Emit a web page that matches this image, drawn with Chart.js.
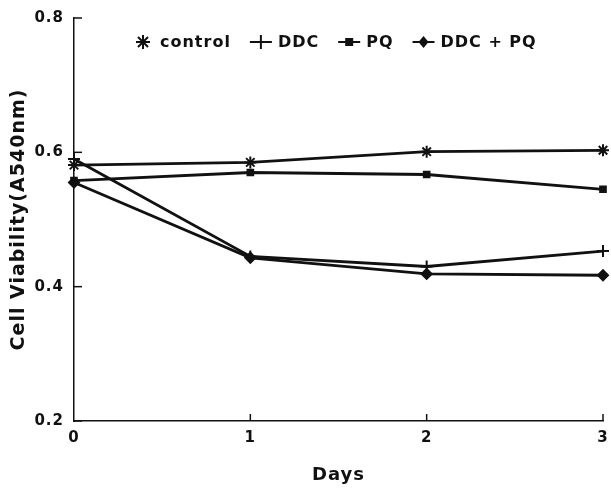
<!DOCTYPE html>
<html lang="en">
<head>
    <meta charset="UTF-8">
    <title>Cell Viability</title>
    <script src="https://cdn.jsdelivr.net/npm/chart.js"></script>
    <style>
        body { margin: 0; background: #fff; }
    </style>
</head>
<body>
    <canvas id="viabilityChart" width="611" height="492"></canvas>

    <script>
        // data
        var days = ["0", "1", "2", "3"];
        var control = [0.581, 0.585, 0.601, 0.603];
        var ddc = [0.590, 0.445, 0.430, 0.453];
        var pq = [0.558, 0.570, 0.567, 0.545];
        var ddcPq = [0.555, 0.443, 0.419, 0.417];
        var yTicks = [0.2, 0.4, 0.6, 0.8];

        var ink = "#111";
        var family = "'DejaVu Sans', 'Liberation Sans', Arial, sans-serif";

        // draws a legend icon: short line with the marker on it
        function drawIcon(g, style, cx, cy)
        {
            g.strokeStyle = ink; g.fillStyle = ink; g.lineWidth = 2;
            if (style != "star") {
                g.beginPath(); g.moveTo(cx - 11, cy); g.lineTo(cx + 11, cy); g.stroke();
            }
            g.beginPath();
            if (style == "star") {
                g.moveTo(cx, cy - 7); g.lineTo(cx, cy + 7);
                g.moveTo(cx - 7, cy); g.lineTo(cx + 7, cy);
                g.moveTo(cx - 5, cy - 5); g.lineTo(cx + 5, cy + 5);
                g.moveTo(cx + 5, cy - 5); g.lineTo(cx - 5, cy + 5);
                g.stroke();
            } else if (style == "cross") {
                g.moveTo(cx, cy - 7); g.lineTo(cx, cy + 7); g.stroke();
            } else if (style == "rect") {
                g.fillRect(cx - 4, cy - 4, 8, 8);
            } else if (style == "rectRot") {
                g.moveTo(cx, cy - 6); g.lineTo(cx + 5, cy); g.lineTo(cx, cy + 6); g.lineTo(cx - 5, cy); g.closePath(); g.fill();
            }
        }

        // wider letter spacing like the printed figure (only when drawing)
        var spacing = {
            id: "spacing",
            beforeDraw(chart) { chart.ctx.letterSpacing = "1px"; },
            afterDraw(chart) { chart.ctx.letterSpacing = "0px"; }
        };

        // inner tick marks + legend row inside the plot
        var decorations = {
            id: "decorations",
            afterDraw(chart) {
                var ctx = chart.ctx, a = chart.chartArea;
                var x = chart.scales.x, y = chart.scales.y;
                ctx.save();
                ctx.strokeStyle = ink; ctx.lineWidth = 1.5;
                yTicks.forEach(v => {
                    var py = y.getPixelForValue(v);
                    ctx.beginPath(); ctx.moveTo(a.left, py); ctx.lineTo(a.left + 8, py); ctx.stroke();
                });
                days.forEach((d, i) => {
                    if (i == 0) return;
                    var px = x.getPixelForValue(i);
                    ctx.beginPath(); ctx.moveTo(px, a.bottom); ctx.lineTo(px, a.bottom - 7); ctx.stroke();
                });

                // legend
                var styles = ["star", "cross", "rect", "rectRot"];
                ctx.font = "bold 16px " + family;
                ctx.letterSpacing = "1px";
                ctx.textBaseline = "middle";
                ctx.textAlign = "left";
                var cx = a.left + 69, cy = 42;
                chart.data.datasets.forEach((ds, i) => {
                    drawIcon(ctx, styles[i], cx, cy);
                    ctx.fillStyle = ink;
                    ctx.fillText(ds.label, cx + 17, cy + 1);
                    cx += 17 + ctx.measureText(ds.label).width + 30;
                });
                ctx.restore();
            }
        };

        function series(label, values, style, radius)
        {
            return {
                label: label,
                data: values,
                borderColor: ink,
                backgroundColor: ink,
                borderWidth: 2.8,
                pointStyle: style,
                pointRadius: radius,
                pointBorderWidth: 2,
                pointBackgroundColor: ink,
                pointBorderColor: ink,
                tension: 0
            };
        }

        var tickFont = { family: family, size: 15, weight: "bold" };

        new Chart(document.getElementById("viabilityChart"), {
            type: "line",
            data: {
                labels: days,
                datasets: [
                    series("control", control, "star", 6),
                    series("DDC", ddc, "cross", 6),
                    series("PQ", pq, "rect", 4),
                    series("DDC + PQ", ddcPq, "rectRot", 5)
                ]
            },
            options: {
                responsive: false,
                animation: false,
                layout: { padding: { left: 8, right: 6, top: 18, bottom: 6 } },
                plugins: {
                    tooltip: { enabled: false },
                    legend: { display: false }
                },
                scales: {
                    x: {
                        type: "category",
                        offset: false,
                        grid: { display: false },
                        border: { display: true, color: ink, width: 1.5 },
                        ticks: { color: ink, font: tickFont, padding: 0, maxRotation: 0 },
                        title: { display: true, text: "Days", color: ink, font: { family: family, size: 18, weight: "bold" }, padding: { top: 19, bottom: 0 } },
                        afterFit(scale) { scale.height = 65; scale.paddingRight = 0; scale.paddingLeft = 0; }
                    },
                    y: {
                        min: 0.2,
                        max: 0.8,
                        grid: { display: false },
                        border: { display: true, color: ink, width: 1.5 },
                        afterBuildTicks(scale) { scale.ticks = yTicks.map(v => ({ value: v })); },
                        ticks: { color: ink, font: tickFont, padding: 2, callback: v => v.toFixed(1) },
                        title: { display: true, text: "Cell Viability(A540nm)", color: ink, font: { family: family, size: 19, weight: "bold" }, padding: { top: 0, bottom: 4 } },
                        afterFit(scale) { scale.width = 66; scale.paddingTop = 0; scale.paddingBottom = 0; }
                    }
                }
            },
            plugins: [spacing, decorations]
        });
    </script>
</body>
</html>
